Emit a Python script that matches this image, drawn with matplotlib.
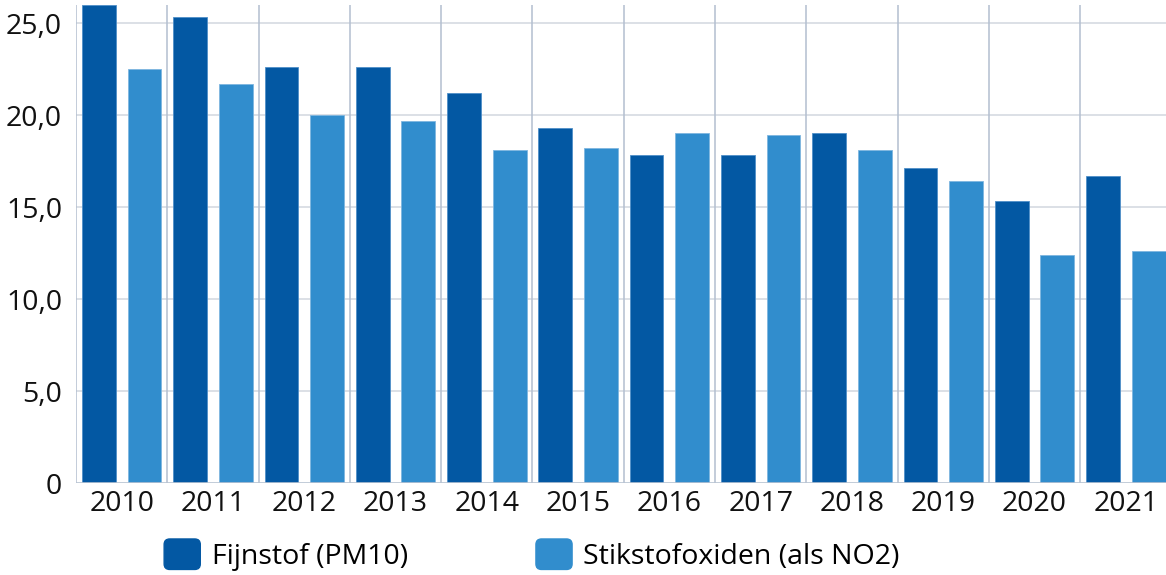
import numpy as np
import matplotlib.pyplot as plt
from matplotlib.patches import FancyBboxPatch, Patch
from matplotlib.legend_handler import HandlerPatch

plt.rcParams['font.family'] = ['Open Sans', 'DejaVu Sans']

years = ['2010', '2011', '2012', '2013', '2014', '2015',
         '2016', '2017', '2018', '2019', '2020', '2021']
pm10 = [26.0, 25.3, 22.6, 22.6, 21.2, 19.3, 17.8, 17.8, 19.0, 17.1, 15.3, 16.7]
no2 = [22.5, 21.7, 20.0, 19.7, 18.1, 18.2, 19.0, 18.9, 18.1, 16.4, 12.4, 12.6]
yticks = [0, 5, 10, 15, 20, 25]
ytick_labels = ['0', '5,0', '10,0', '15,0', '20,0', '25,0']

dark = '#0358a3'
light = '#318dcd'
fs = 20.5

fig = plt.figure(figsize=(11.66, 5.75), dpi=100)
ax = fig.add_axes([0.0652, 0.16, 0.9348, 0.832])

x = np.arange(len(years))
w = 0.37
ax.bar(x - 0.25, pm10, w, color=dark, edgecolor='#4f8fc8', linewidth=0.6, zorder=3)
ax.bar(x + 0.25, no2, w, color=light, edgecolor='#7fb6e0', linewidth=0.6, zorder=3)

ax.set_ylim(0, 26)
ax.set_xlim(-0.5, 11.44)
ax.set_yticks(yticks)
ax.set_yticklabels(ytick_labels)
ax.set_xticks(x)
ax.set_xticklabels(years)
ax.tick_params(axis='both', length=0, labelsize=fs, colors='#111111')
ax.tick_params(axis='x', pad=5)
ax.tick_params(axis='y', pad=10)

# grid
for yv in yticks[1:]:
    ax.axhline(yv, color='#d5dae2', linewidth=1.2, zorder=1)
for xv in np.arange(-0.5, 12, 1.0):
    ax.axvline(xv, color='#b3bfd0', linewidth=1.1, zorder=1)
for s in ax.spines.values():
    s.set_visible(False)
ax.axhline(0, color='#b8c3d2', linewidth=1.2, zorder=4)


def rounded(legend, orig_handle, xdescent, ydescent, width, height, fontsize):
    return FancyBboxPatch((-xdescent, -ydescent), width, height,
                          boxstyle='round,pad=0,rounding_size=4',
                          mutation_aspect=1)

handles = [Patch(color=dark, label='Fijnstof (PM10)'),
           Patch(color=light, label='Stikstofoxiden (als NO2)')]
fig.legend(handles=handles, loc='center', bbox_to_anchor=(532 / 1166, 0.035),
           ncol=2, frameon=False, fontsize=fs, handlelength=1.27, handleheight=1.27,
           handletextpad=0.4, columnspacing=4.5,
           handler_map={Patch: HandlerPatch(patch_func=rounded)})

fig.savefig('out.png', dpi=100)
